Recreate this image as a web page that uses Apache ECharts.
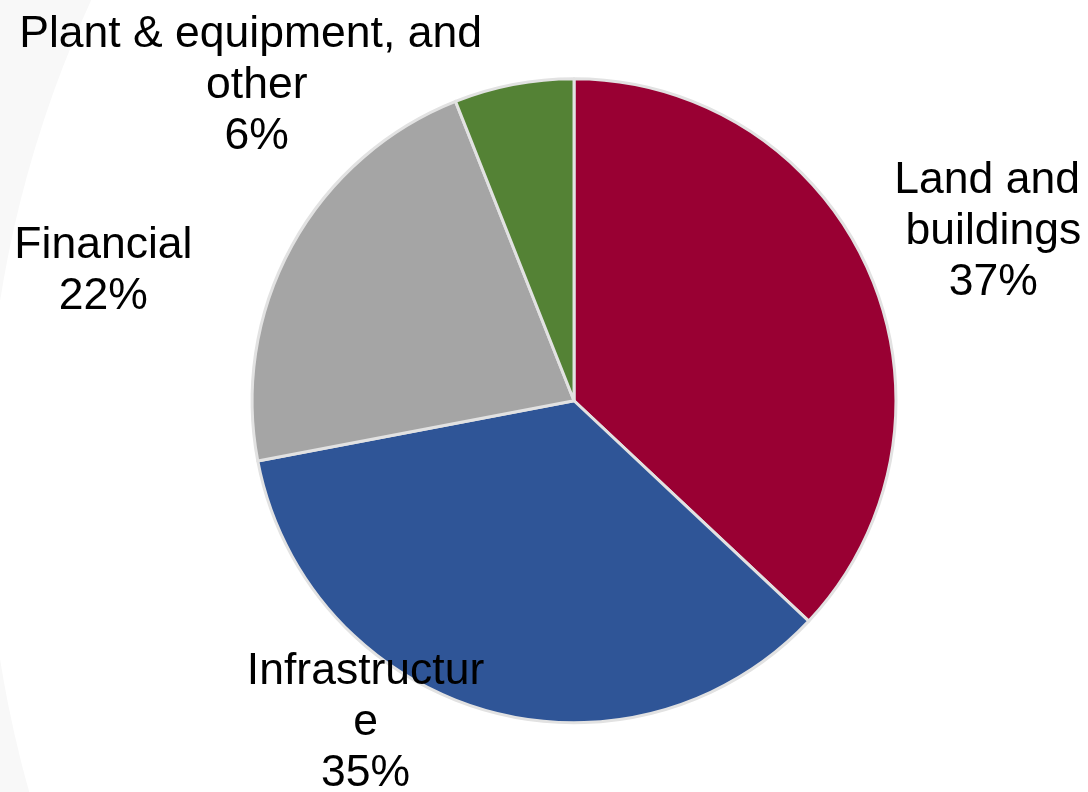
<!DOCTYPE html>
<html>
<head>
<meta charset="utf-8">
<script src="https://cdn.jsdelivr.net/npm/echarts@6/dist/echarts.min.js"></script>
<style>
  html, body { margin: 0; padding: 0; background: #ffffff; }
  #chart { width: 1088px; height: 792px; }
</style>
</head>
<body>
<div id="chart"></div>
<script>
// Data
const categories = ['Land and buildings', 'Infrastructure', 'Financial', 'Plant & equipment, and other'];
const shares = [37, 35, 22, 6];
const colors = ['#990033', '#2F5597', '#A5A5A5', '#548235'];
// label wrap widths (px) and label anchor positions (fractions of canvas)
const labelWidths = [200, 252, 220, 490];
const labelAnchors = [[0.913, 0.293], [0.336, 0.912], [0.095, 0.343], [0.236, 0.108]];

const chart = echarts.init(document.getElementById('chart'), null, { renderer: 'canvas' });
const W = 1088, H = 792;

const option = {
  backgroundColor: '#ffffff',
  animation: false,
  graphic: [
    { type: 'rect', z: -10, silent: true, shape: { x: 0, y: 0, width: W, height: H }, style: { fill: '#f8f8f8' } },
    { type: 'circle', z: -9, silent: true, shape: { cx: 1133, cy: 480, r: 1147 }, style: { fill: '#ffffff' } }
  ],
  series: [{
    type: 'pie',
    center: ['52.76%', '50.6%'],
    radius: '81.3%',
    startAngle: 90,
    clockwise: true,
    avoidLabelOverlap: false,
    itemStyle: { borderColor: '#e2e2e2', borderWidth: 3 },
    labelLine: { show: false },
    label: {
      show: true,
      position: 'outside',
      fontFamily: '"Liberation Sans", Arial, sans-serif',
      fontSize: 44.5,
      lineHeight: 51,
      color: '#000000',
      align: 'center',
      formatter: function (p) { return p.name + '\n' + Math.round(p.percent) + '%'; }
    },
    labelLayout: function (p) {
      const a = labelAnchors[p.dataIndex];
      return { x: a[0] * W, y: a[1] * H, align: 'center', verticalAlign: 'middle' };
    },
    data: categories.map(function (c, i) {
      return {
        name: c,
        value: shares[i],
        itemStyle: { color: colors[i] },
        label: { width: labelWidths[i], overflow: i === 1 ? 'breakAll' : 'break' }
      };
    })
  }]
};
chart.setOption(option);
</script>
</body>
</html>
